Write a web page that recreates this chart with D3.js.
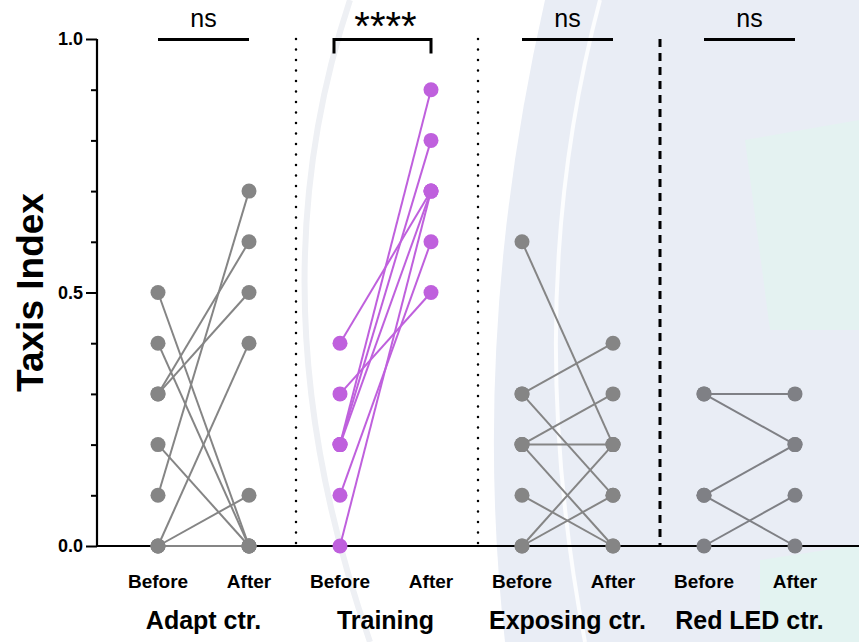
<!DOCTYPE html>
<html>
<head>
<meta charset="utf-8">
<script src="https://cdn.jsdelivr.net/npm/d3@7"></script>
<style>
  html, body { margin: 0; padding: 0; background: #fff; }
  svg { display: block; }
  text { font-family: "Liberation Sans", Arial, sans-serif; }
</style>
</head>
<body>
<svg id="chart" width="859" height="642"></svg>
<script>
// ---- data ----
const groups = ["Adapt ctr.", "Training", "Exposing ctr.", "Red LED ctr."];
const timepoints = ["Before", "After"];
const groupColors = ["#858585", "#bf60dd", "#858585", "#7f8085"];
const sigLabels = ["ns", "****", "ns", "ns"];
// paired values [before, after] per subject
const adaptPairs = [[0.5,0.0],[0.4,0.0],[0.3,0.6],[0.3,0.5],[0.2,0.0],[0.1,0.7],[0.0,0.4],[0.0,0.1],[0.0,0.0]];
const trainingPairs = [[0.4,0.7],[0.3,0.5],[0.2,0.9],[0.2,0.8],[0.2,0.7],[0.1,0.6],[0.0,0.7]];
const exposingPairs = [[0.6,0.2],[0.3,0.4],[0.3,0.1],[0.2,0.3],[0.2,0.2],[0.2,0.0],[0.1,0.0],[0.0,0.2],[0.0,0.1]];
const redLedPairs = [[0.3,0.3],[0.3,0.2],[0.1,0.2],[0.1,0.0],[0.0,0.1]];
const allPairs = [adaptPairs, trainingPairs, exposingPairs, redLedPairs];
const yTicksMajor = [0, 0.5, 1.0];
const yTicksMinor = [0.1, 0.2, 0.3, 0.4, 0.6, 0.7, 0.8, 0.9];
const separatorStyles = ["dotted", "dotted", "dashed"];

// ---- scales ----
const svg = d3.select("#chart");
const W = 859, H = 642;
const slots = [];
groups.forEach((g, i) => timepoints.forEach(t => slots.push(i + "|" + t)));
const x = d3.scalePoint().domain(slots).range([158, 795]);
const y = d3.scaleLinear().domain([0, 1]).range([546, 39]);

// ---- faint watermark-like background ----
const bg = svg.append("g");
bg.append("path").attr("d", "M545,0 Q470,330 505,642 L859,642 L859,0 Z").attr("fill", "#e9edf5");
bg.append("path").attr("d", "M600,0 Q520,300 585,642").attr("fill", "none")
  .attr("stroke", "#ffffff").attr("stroke-width", 4).attr("opacity", 0.85);
bg.append("path").attr("d", "M745,140 L859,120 L859,330 L770,330 Z").attr("fill", "#e4f2f1");
bg.append("path").attr("d", "M760,560 L859,545 L859,642 L760,642 Z").attr("fill", "#e3f3f1");
bg.append("path").attr("d", "M350,0 Q250,300 370,642").attr("fill", "none")
  .attr("stroke", "#eef0f4").attr("stroke-width", 6);

// ---- separators ----
for (let i = 0; i < 3; i++) {
  const sx = (x(i + "|After") + x((i + 1) + "|Before")) / 2 + 1.5;
  const line = svg.append("line")
    .attr("x1", sx).attr("x2", sx).attr("y1", y(1.0)).attr("y2", y(0))
    .attr("stroke", "#000");
  if (separatorStyles[i] === "dotted") {
    line.attr("stroke-width", 2.5).attr("stroke-dasharray", "0 10.5").attr("stroke-linecap", "round");
  } else {
    line.attr("stroke-width", 3).attr("stroke-dasharray", "8 6");
  }
}

// ---- x baseline ----
svg.append("line").attr("x1", 97).attr("x2", W).attr("y1", y(0)).attr("y2", y(0))
  .attr("stroke", "#000").attr("stroke-width", 2.2);

// ---- y axis ----
const yAxis = d3.axisLeft(y).tickValues(yTicksMajor).tickFormat(d3.format(".1f")).tickSize(11).tickPadding(3);
const ya = svg.append("g").attr("transform", "translate(97,0)").call(yAxis);
ya.select(".domain").attr("stroke", "#000").attr("stroke-width", 2.2).attr("d", `M0,${y(1)}V${y(0)}`);
ya.selectAll(".tick line").attr("stroke", "#000").attr("stroke-width", 2);
ya.selectAll(".tick text").attr("font-size", 18).attr("font-weight", "bold").attr("fill", "#000")
  .style("font-family", "'Liberation Sans', Arial, sans-serif");
const yMinor = d3.axisLeft(y).tickValues(yTicksMinor).tickFormat("").tickSize(6);
const ym = svg.append("g").attr("transform", "translate(97,0)").call(yMinor);
ym.select(".domain").remove();
ym.selectAll(".tick line").attr("stroke", "#000").attr("stroke-width", 2);

svg.append("text")
  .attr("transform", `translate(43,${(y(0) + y(1)) / 2}) rotate(-90)`)
  .attr("text-anchor", "middle").attr("font-size", 37).attr("font-weight", "bold")
  .text("Taxis Index");

// ---- paired lines and points ----
allPairs.forEach((pairs, gi) => {
  const g = svg.append("g");
  const col = groupColors[gi];
  const xb = x(gi + "|Before"), xa = x(gi + "|After");
  g.selectAll("line").data(pairs).join("line")
    .attr("x1", xb).attr("x2", xa)
    .attr("y1", d => y(d[0])).attr("y2", d => y(d[1]))
    .attr("stroke", col).attr("stroke-width", 2);
  const pts = [];
  pairs.forEach(d => { pts.push([xb, d[0]]); pts.push([xa, d[1]]); });
  g.selectAll("circle").data(pts).join("circle")
    .attr("cx", d => d[0]).attr("cy", d => y(d[1])).attr("r", 7.5)
    .attr("fill", col);
});

// ---- x labels ----
slots.forEach(s => {
  const t = s.split("|")[1];
  svg.append("text").attr("x", x(s)).attr("y", 588)
    .attr("text-anchor", "middle").attr("font-size", 19).attr("font-weight", "bold")
    .text(t);
});
groups.forEach((g, i) => {
  const cx = (x(i + "|Before") + x(i + "|After")) / 2;
  svg.append("text").attr("x", cx).attr("y", 629)
    .attr("text-anchor", "middle").attr("font-size", 25).attr("font-weight", "bold")
    .text(g);
});

// ---- significance bars ----
groups.forEach((g, i) => {
  const xb = x(i + "|Before"), xa = x(i + "|After");
  const by = y(1.0) + 0.5;
  if (sigLabels[i] === "ns") {
    svg.append("line").attr("x1", xb).attr("x2", xa).attr("y1", by).attr("y2", by)
      .attr("stroke", "#000").attr("stroke-width", 3);
    svg.append("text").attr("x", (xb + xa) / 2).attr("y", 27)
      .attr("text-anchor", "middle").attr("font-size", 25).text(sigLabels[i]);
  } else {
    svg.append("path").attr("d", `M${xb - 6},${by + 14}V${by}H${xa}V${by + 14}`)
      .attr("fill", "none").attr("stroke", "#000").attr("stroke-width", 3);
    svg.append("text").attr("x", (xb + xa) / 2).attr("y", 40)
      .attr("text-anchor", "middle").attr("font-size", 40).text(sigLabels[i]);
  }
});
</script>
</body>
</html>
